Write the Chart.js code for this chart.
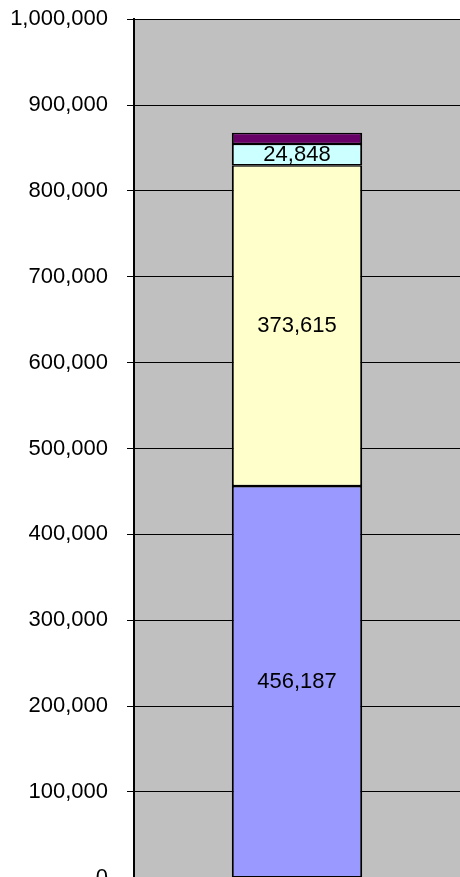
<!DOCTYPE html>
<html>
<head>
<meta charset="utf-8">
<script src="https://cdn.jsdelivr.net/npm/chart.js@4"></script>
<style>
html,body{margin:0;padding:0;background:#fff;overflow:hidden;}
#wrap{width:460px;height:923px;position:relative;margin-top:-13px;}
</style>
</head>
<body>
<div id="wrap"><canvas id="c"></canvas></div>
<script>
const categories = [""];
const seriesA = [456187];
const seriesB = [373615];
const seriesC = [24848];
const seriesD = [13000];
const yTicks = [0,100000,200000,300000,400000,500000,600000,700000,800000,900000,1000000];

const fmt = v => v.toLocaleString('en-US');
const FONT = '"Liberation Sans", Arial, sans-serif';

const plotBg = {
  id: 'plotBg',
  beforeDraw(chart) {
    const {ctx, chartArea: a} = chart;
    ctx.save();
    ctx.fillStyle = '#C0C0C0';
    ctx.fillRect(a.left, a.top, a.right - a.left, a.bottom - a.top);
    ctx.restore();
  }
};
const labels = {
  id: 'labels',
  afterDatasetsDraw(chart) {
    const ctx = chart.ctx;
    ctx.save();
    ctx.font = '22px ' + FONT;
    ctx.fillStyle = '#000';
    ctx.textAlign = 'center';
    ctx.textBaseline = 'middle';
    [0,1,2].forEach(i => {
      const meta = chart.getDatasetMeta(i);
      meta.data.forEach((bar, j) => {
        const v = chart.data.datasets[i].data[j];
        const p = bar.getProps(['x','y','base'], true);
        ctx.fillText(fmt(v), p.x, (p.y + p.base) / 2);
      });
    });
    ctx.restore();
  }
};

const bw = {top: 1.3, bottom: 1.3, left: 2, right: 2};

new Chart(document.getElementById('c'), {
  type: 'bar',
  data: {
    labels: categories,
    datasets: [
      {data: seriesA, backgroundColor: '#9999FF', borderColor: '#000', borderWidth: bw, borderSkipped: false},
      {data: seriesB, backgroundColor: '#FFFFCC', borderColor: '#000', borderWidth: bw, borderSkipped: false},
      {data: seriesC, backgroundColor: '#CCFFFF', borderColor: '#000', borderWidth: bw, borderSkipped: false},
      {data: seriesD, backgroundColor: '#660066', borderColor: '#000', borderWidth: bw, borderSkipped: false}
    ]
  },
  options: {
    responsive: true,
    maintainAspectRatio: false,
    animation: false,
    layout: {padding: {top: 7, right: 0, bottom: 0, left: 0}},
    plugins: {legend: {display: false}, tooltip: {enabled: false}},
    datasets: {bar: {barPercentage: 0.4, categoryPercentage: 1.0}},
    scales: {
      x: {
        stacked: true,
        grid: {display: false, drawTicks: false},
        border: {display: false},
        ticks: {display: false}
      },
      y: {
        stacked: true,
        min: 0, max: 1000000,
        afterBuildTicks: s => { s.ticks = yTicks.map(v => ({value: v})); },
        afterFit: s => { s.width = 134; },
        grid: {color: '#000', lineWidth: 1, tickLength: 7, drawOnChartArea: true},
        border: {display: true, color: '#000', width: 2},
        ticks: {
          color: '#000',
          padding: 19,
          font: {family: FONT, size: 22},
          callback: v => fmt(v)
        }
      }
    }
  },
  plugins: [plotBg, labels]
});
</script>
</body>
</html>
